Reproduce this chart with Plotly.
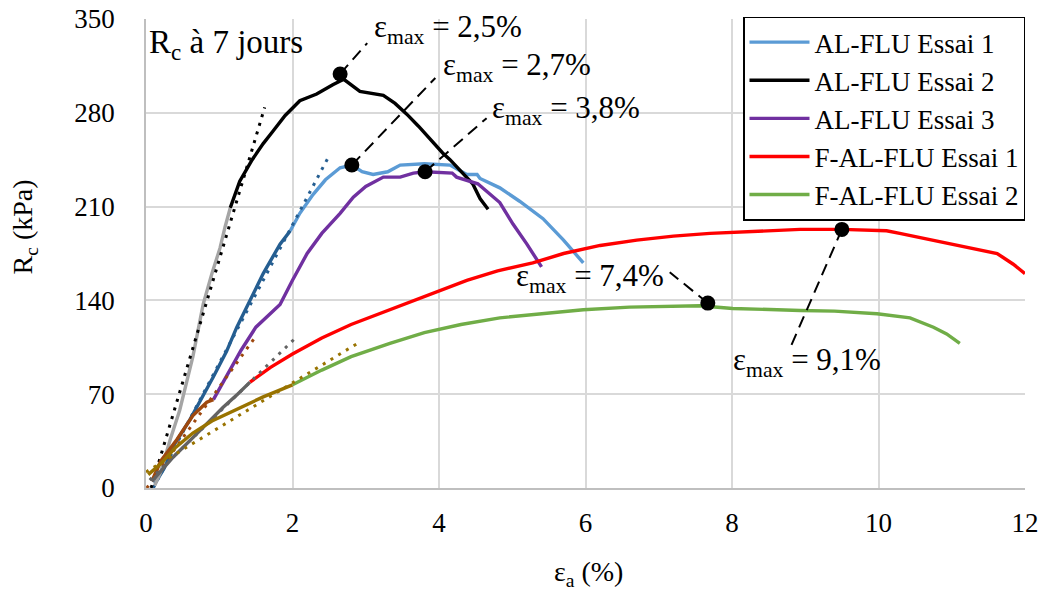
import plotly.graph_objects as go

# ---------------- data ----------------
# AL-FLU Essai 1
al1_init_x = [0.12, 0.25, 0.37, 0.6, 0.92, 1.1, 1.24, 1.42, 1.6, 1.83, 1.97]
al1_init_y = [3, 15, 31, 51, 83, 102, 120, 140, 160, 182, 192]
al1_x = [1.97, 2.1, 2.28, 2.45, 2.65, 2.81, 2.95, 3.1, 3.3, 3.47, 3.8, 4.15, 4.38, 4.52, 4.56, 4.83, 5.1, 5.42, 5.7, 5.97]
al1_y = [192, 205, 219, 230, 239, 241, 236, 234, 236, 241, 242, 241, 234, 234, 231, 224, 214, 201, 185, 168]
al1_fit_x = [0.1, 2.51]
al1_fit_y = [0, 249]

# AL-FLU Essai 2
al2_init_x = [0.12, 0.2, 0.33, 0.46, 0.64, 0.78, 0.9, 1.01, 1.08, 1.15]
al2_init_y = [2, 12, 36, 58, 98, 137, 160, 179, 195, 209]
al2_x = [1.15, 1.28, 1.45, 1.6, 1.73, 1.9, 2.1, 2.33, 2.55, 2.7, 2.92, 3.24, 3.4, 3.56, 3.72, 3.88, 4.05, 4.15, 4.3, 4.46, 4.56, 4.67]
al2_y = [209, 229, 245, 257, 266, 278, 289, 294, 301, 305, 296, 293, 287, 279, 270, 260, 250, 245, 236, 227, 216, 208]
al2_fit_x = [0.07, 1.62]
al2_fit_y = [0, 284]

# AL-FLU Essai 3
al3_init_x = [0.08, 0.2, 0.42, 0.64, 0.83, 0.92]
al3_init_y = [5, 20, 36, 54, 64, 66]
al3_x = [0.92, 1.1, 1.3, 1.5, 1.65, 1.83, 2.0, 2.2, 2.4, 2.65, 2.83, 3.0, 3.24, 3.47, 3.65, 3.81, 4.18, 4.24, 4.53, 4.83, 5.01, 5.2, 5.4]
al3_y = [66, 83, 103, 120, 128, 137, 155, 175, 190, 205, 217, 225, 232, 232, 235, 236, 235, 232, 227, 213, 197, 182, 165]
al3_fit_x = [0.01, 1.51]
al3_fit_y = [0, 114]

# F-AL-FLU Essai 1
fal1_init_x = [0.08, 0.37, 0.74, 1.05, 1.25, 1.42]
fal1_init_y = [5, 23, 43, 60, 70, 79]
fal1_x = [1.42, 1.7, 2.0, 2.4, 2.8, 3.33, 3.8, 4.38, 4.8, 5.28, 5.7, 6.2, 6.7, 7.2, 7.7, 8.2, 8.93, 9.5, 10.11, 10.29, 10.75, 11.2, 11.62, 11.84, 12.0]
fal1_y = [79, 90, 100, 112, 122, 133, 143, 155, 162, 168, 175, 181, 185, 188, 190, 191, 193, 193, 192, 190, 185, 180, 175, 167, 160]
fal1_fit_x = [0.05, 2.06]
fal1_fit_y = [6, 113]

# F-AL-FLU Essai 2
fal2_init_x = [0.03, 0.2, 0.4, 0.64, 0.9, 1.28, 1.6, 2.0]
fal2_init_y = [10, 18, 30, 41, 50, 60, 68, 77]
fal2_x = [2.0, 2.4, 2.8, 3.33, 3.8, 4.3, 4.83, 5.4, 5.97, 6.6, 7.2, 7.56, 8.01, 8.5, 8.93, 9.4, 9.98, 10.43, 10.75, 10.93, 11.11]
fal2_y = [77, 88, 98, 108, 116, 122, 127, 130, 133, 135, 136, 136, 134, 133, 132.5, 132, 130, 127, 120, 115, 108]
fal2_fit_x = [0.0, 2.92]
fal2_fit_y = [12, 109]

# peak markers, leader-line ends and labels
peak_x = [2.65, 2.81, 3.81, 7.67, 9.5]
peak_y = [309, 241, 236, 138, 193]
lead_x = [3.02, 3.95, 4.65, 7.15, 8.79]
lead_y = [332, 306, 276, 161, 104]
label_text = ["2,5%", "2,7%", "3,8%", "7,4%", "9,1%"]
label_x = [3.08, 4.03, 4.70, 7.10, 7.99]
label_y = [342.5, 314, 282, 157, 94]
label_anchor = ["left", "left", "left", "right", "left"]

x_ticks = [0, 2, 4, 6, 8, 10, 12]
y_ticks = [0, 70, 140, 210, 280, 350]

FONT = "Liberation Serif, Times New Roman, serif"

fig = go.Figure()

main = [
    ("AL-FLU Essai 1", al1_x, al1_y, "#5B9BD5"),
    ("AL-FLU Essai 2", al2_x, al2_y, "#000000"),
    ("AL-FLU Essai 3", al3_x, al3_y, "#7030A0"),
    ("F-AL-FLU Essai 1", fal1_x, fal1_y, "#FF0000"),
    ("F-AL-FLU Essai 2", fal2_x, fal2_y, "#70AD47"),
]
for name, xs, ys, c in main:
    fig.add_trace(go.Scatter(x=xs, y=ys, mode="lines", name=name,
                             line=dict(color=c, width=3.4)))

inits = [
    (al1_init_x, al1_init_y, al1_fit_x, al1_fit_y, "#255E91"),
    (al2_init_x, al2_init_y, al2_fit_x, al2_fit_y, "#A5A5A5"),
    (al3_init_x, al3_init_y, al3_fit_x, al3_fit_y, "#9E480E"),
    (fal1_init_x, fal1_init_y, fal1_fit_x, fal1_fit_y, "#636363"),
    (fal2_init_x, fal2_init_y, fal2_fit_x, fal2_fit_y, "#997300"),
]
fit_colors = ["#255E91", "#000000", "#9E480E", "#636363", "#997300"]
for (ix, iy, fx, fy, c), fc in zip(inits, fit_colors):
    fig.add_trace(go.Scatter(x=ix, y=iy, mode="lines", showlegend=False,
                             line=dict(color=c, width=3.4), hoverinfo="skip"))
    fig.add_trace(go.Scatter(x=fx, y=fy, mode="lines", showlegend=False,
                             line=dict(color=fc, width=3, dash="3px,6px"), hoverinfo="skip"))

for px_, py_, lx, ly in zip(peak_x, peak_y, lead_x, lead_y):
    fig.add_trace(go.Scatter(x=[px_, lx], y=[py_, ly], mode="lines", showlegend=False,
                             line=dict(color="black", width=2, dash="12px,7px"), hoverinfo="skip"))

fig.add_trace(go.Scatter(x=peak_x, y=peak_y, mode="markers", showlegend=False,
                         marker=dict(color="black", size=15), hoverinfo="skip"))

for t, x, y, a in zip(label_text, label_x, label_y, label_anchor):
    fig.add_annotation(x=x, y=y, text="ε<sub>max</sub> = " + t, showarrow=False,
                       xanchor=a, yanchor="middle",
                       font=dict(family=FONT, size=31, color="black"))

fig.add_annotation(x=0.02, y=331, text="R<sub>c</sub> à 7 jours", showarrow=False,
                   xanchor="left", yanchor="middle",
                   font=dict(family=FONT, size=33, color="black"))

# axis titles
fig.add_annotation(xref="paper", yref="paper", x=0.503, y=-0.183, yanchor="middle",
                   text="ε<sub>a</sub> (%)", showarrow=False,
                   font=dict(family=FONT, size=28, color="black"))
fig.add_annotation(xref="paper", yref="paper", x=-0.138, y=0.557, xanchor="center",
                   yanchor="middle", text="R<sub>c</sub> (kPa)", showarrow=False,
                   textangle=-90, font=dict(family=FONT, size=28, color="black"))

fig.update_layout(
    width=1046, height=590,
    margin=dict(l=138, r=29, t=10, b=110),
    paper_bgcolor="white", plot_bgcolor="white",
    font=dict(family=FONT, size=27, color="black"),
    showlegend=True,
    legend=dict(x=1.0, y=1.003, xanchor="right", yanchor="top",
                bgcolor="white", bordercolor="black", borderwidth=1.5,
                font=dict(family=FONT, size=27, color="black"),
                itemwidth=60, tracegroupgap=0),
)
fig.update_xaxes(range=[0, 12], tickvals=x_ticks, ticktext=[str(v) for v in x_ticks],
                 showgrid=True, gridcolor="#D9D9D9", gridwidth=1.5,
                 showline=True, linecolor="#BFBFBF", linewidth=1.5,
                 zeroline=False, ticks="", ticklabelstandoff=10, automargin=False,
                 ticklabeloverflow="allow",
                 tickfont=dict(family=FONT, size=27, color="black"))
fig.update_yaxes(range=[0, 350], tickvals=y_ticks, ticktext=[str(v) for v in y_ticks],
                 showgrid=True, gridcolor="#D9D9D9", gridwidth=1.5,
                 showline=True, linecolor="#BFBFBF", linewidth=1.5,
                 zeroline=False, ticks="", ticklabelstandoff=24, automargin=False,
                 ticklabeloverflow="allow",
                 tickfont=dict(family=FONT, size=27, color="black"))

fig.write_html("out.html")
